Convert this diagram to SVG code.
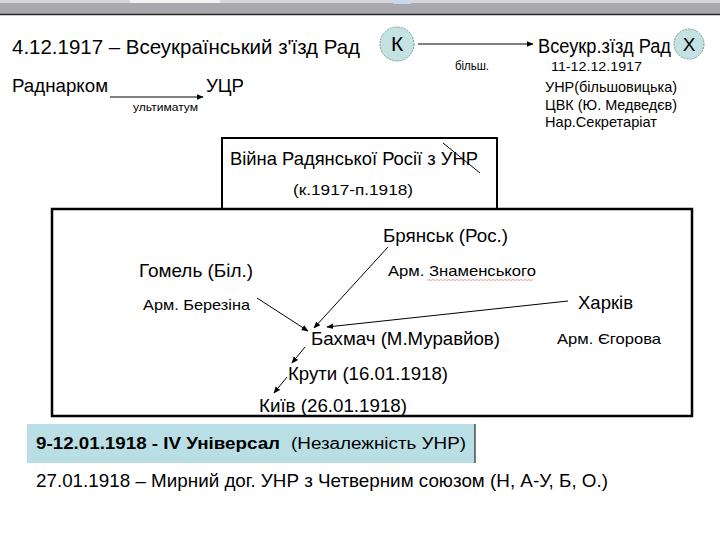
<svg xmlns="http://www.w3.org/2000/svg" width="720" height="540" viewBox="0 0 720 540">
<defs>
<style>
text{font-family:"Liberation Sans",Arial,sans-serif;fill:#000}
.big{font-size:21px}
.med{font-size:18.5px}
.sm{font-size:15px}
.xs{font-size:12px}
.ln{stroke:#000;stroke-width:1;fill:none}
.circ{fill:#c4e2e2;stroke:#7a9a9a;stroke-width:1;stroke-dasharray:2 1}
.box{fill:#fff;stroke:#000;stroke-width:2.5}
</style>
<marker id="ah" viewBox="0 0 10 10" refX="9" refY="5" markerWidth="7" markerHeight="7" orient="auto" markerUnits="userSpaceOnUse">
<path d="M0,1 L10,5 L0,9 z" fill="#000"/>
</marker>
</defs>
<rect x="0" y="0" width="720" height="540" fill="#fff"/>
<g id="topbar">
<rect x="0" y="0" width="720" height="15" fill="#a9a9ad"/>
<rect x="0" y="0" width="720" height="3" fill="#d6d6da"/>
<rect x="130" y="0" width="90" height="3" fill="#f2f2f2"/>
<rect x="393" y="0" width="18" height="4" fill="#c8d8ec"/>
<line x1="0" y1="14.5" x2="720" y2="14.5" stroke="#2a2a2a" stroke-width="1.5"/>
</g>
<g id="boxes">
<rect class="box" x="222" y="138" width="275" height="72" style="stroke-width:2"/>
<rect class="box" x="52" y="209" width="640" height="207"/>
<rect x="27" y="424" width="448" height="39" fill="#b9dee3"/>
<line x1="475" y1="424" x2="475" y2="463" stroke="#000" stroke-width="1"/>
</g>
<g id="node-title"><text class="big" x="12" y="54" textLength="348" lengthAdjust="spacingAndGlyphs">4.12.1917 – Всеукраїнський з'їзд Рад</text></g>
<g id="node-K"><circle class="circ" cx="397" cy="44" r="17"/><text class="big" x="397" y="51" text-anchor="middle">К</text></g>
<g id="node-zizd">
<text style="font-size:20px" x="538" y="53" textLength="133" lengthAdjust="spacingAndGlyphs">Всеукр.зїзд Рад</text>
<circle class="circ" cx="689" cy="44" r="15"/><text style="font-size:19px" x="689" y="51" text-anchor="middle">Х</text>
<text style="font-size:13.5px" x="551" y="71" textLength="91" lengthAdjust="spacingAndGlyphs">11-12.12.1917</text>
<text class="sm" x="545" y="92" textLength="132" lengthAdjust="spacingAndGlyphs">УНР(більшовицька)</text>
<text class="sm" x="545" y="110" textLength="132" lengthAdjust="spacingAndGlyphs">ЦВК (Ю. Медведєв)</text>
<text class="sm" x="545" y="127" textLength="112" lengthAdjust="spacingAndGlyphs">Нар.Секретаріат</text>
</g>
<g id="node-radnarkom"><text class="med" x="12" y="92" textLength="96" lengthAdjust="spacingAndGlyphs">Раднарком</text></g>
<g id="node-ucr"><text class="med" x="206" y="92" textLength="38" lengthAdjust="spacingAndGlyphs">УЦР</text></g>
<g id="node-war">
<text class="med" x="230" y="165" textLength="248" lengthAdjust="spacingAndGlyphs">Війна Радянської Росії з УНР</text>
<line x1="443" y1="143" x2="480" y2="173" stroke="#000" stroke-width="1"/>
<text class="sm" x="293" y="195" textLength="120" lengthAdjust="spacingAndGlyphs">(к.1917-п.1918)</text>
</g>
<g id="node-bryansk"><text class="med" x="383" y="242" textLength="125" lengthAdjust="spacingAndGlyphs">Брянськ (Рос.)</text>
<text class="sm" x="388" y="276" textLength="148" lengthAdjust="spacingAndGlyphs">Арм. Знаменського</text>
<path d="M427,280.5 l2,-1 l2,1 l2,-1 l2,1 l2,-1 l2,1 l2,-1 l2,1 l2,-1 l2,1 l2,-1 l2,1 l2,-1 l2,1 l2,-1 l2,1 l2,-1 l2,1 l2,-1 l2,1 l2,-1 l2,1 l2,-1 l2,1 l2,-1 l2,1 l2,-1 l2,1 l2,-1 l2,1 l2,-1 l2,1 l2,-1 l2,1 l2,-1 l2,1 l2,-1 l2,1 l2,-1 l2,1 l2,-1 l2,1 l2,-1 l2,1 l2,-1 l2,1 l2,-1 l2,1 l2,-1 l2,1 l2,-1 l2,1 l2,-1" fill="none" stroke="#d86060" stroke-width="0.6"/>
</g>
<g id="node-gomel"><text class="med" x="139" y="277" textLength="114" lengthAdjust="spacingAndGlyphs">Гомель (Біл.)</text>
<text class="sm" x="143" y="310" textLength="107" lengthAdjust="spacingAndGlyphs">Арм. Березіна</text></g>
<g id="node-kharkiv"><text class="med" x="578" y="309" textLength="55" lengthAdjust="spacingAndGlyphs">Харків</text>
<text class="sm" x="557" y="344" textLength="104" lengthAdjust="spacingAndGlyphs">Арм. Єгорова</text></g>
<g id="node-bakhmach"><text class="med" x="311" y="345" textLength="189" lengthAdjust="spacingAndGlyphs">Бахмач (М.Муравйов)</text></g>
<g id="node-kruty"><text class="med" x="288" y="380" textLength="160" lengthAdjust="spacingAndGlyphs">Крути (16.01.1918)</text></g>
<g id="node-kyiv"><text class="med" x="259" y="412" textLength="148" lengthAdjust="spacingAndGlyphs">Київ (26.01.1918)</text></g>
<g id="node-universal"><text style="font-size:16px;font-weight:bold" x="36" y="449" textLength="244" lengthAdjust="spacingAndGlyphs">9-12.01.1918 - IV Універсал</text>
<text style="font-size:16px" x="291" y="449" textLength="175" lengthAdjust="spacingAndGlyphs">(Незалежність УНР)</text></g>
<g id="node-peace"><text class="med" x="36" y="487" textLength="572" lengthAdjust="spacingAndGlyphs">27.01.1918 – Мирний дог. УНР з Четверним союзом (Н, А-У, Б, О.)</text></g>
<g id="connectors">
<line class="ln" x1="418" y1="44" x2="533" y2="44" marker-end="url(#ah)"/>
<text class="xs" x="455" y="70" textLength="34" lengthAdjust="spacingAndGlyphs">більш.</text>
<line class="ln" x1="110" y1="97" x2="203" y2="97" marker-end="url(#ah)"/>
<text style="font-size:11px" x="133" y="111" textLength="65" lengthAdjust="spacingAndGlyphs">ультиматум</text>
<line class="ln" x1="388" y1="247" x2="314" y2="328" marker-end="url(#ah)"/>
<line class="ln" x1="257" y1="298" x2="308" y2="331" marker-end="url(#ah)"/>
<line class="ln" x1="568" y1="301" x2="327" y2="327" marker-end="url(#ah)"/>
<line class="ln" x1="305" y1="347" x2="292" y2="363" marker-end="url(#ah)"/>
<line class="ln" x1="287" y1="377" x2="274" y2="393" marker-end="url(#ah)"/>
</g>
</svg>
